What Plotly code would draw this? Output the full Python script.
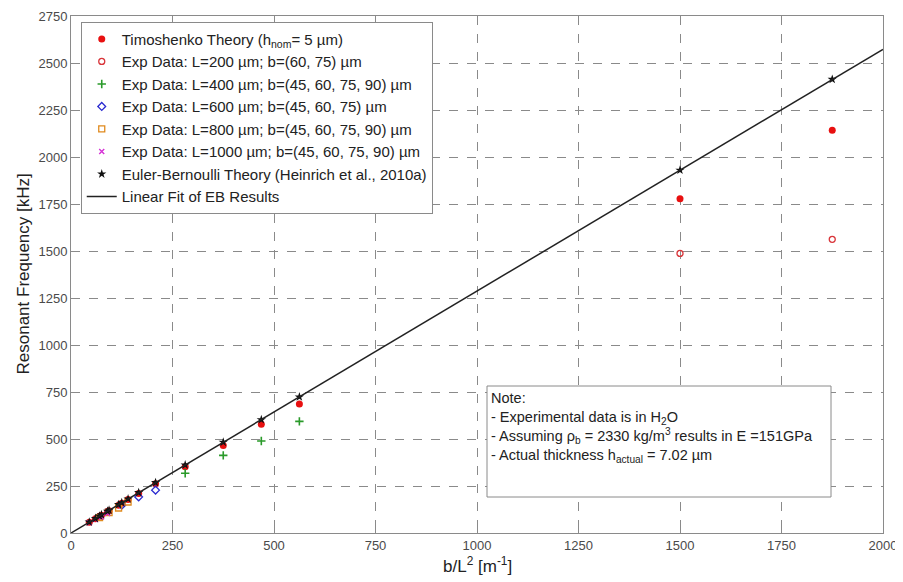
import plotly.graph_objects as go

# ---- data ----
eb_x = [45, 60, 70.3, 75, 90, 93.75, 117.2, 125, 140.6, 166.7, 208.3, 281.25, 375, 468.75, 562.5, 1500, 1875]
eb_y = [58, 77, 90, 97, 116, 121, 151, 161, 181, 215, 268, 362, 483, 603, 724, 1930, 2413]
timo_y = [57, 76, 89, 95, 114, 119, 148, 158, 178, 210, 262, 352, 465, 578, 686, 1778, 2142]

l200_x = [1500, 1875]
l200_y = [1487, 1562]
l400_x = [281.25, 375, 468.75, 562.5]
l400_y = [318, 413, 489, 594]
l600_x = [125, 166.7, 208.3]
l600_y = [148, 192, 228]
l800_x = [70.3, 93.75, 117.2, 140.6]
l800_y = [82, 108, 133, 165]
l1000_x = [45, 60, 75, 90]
l1000_y = [55, 72, 85, 104]

fit_x = [0, 2000]
fit_y = [0, 2573]

x_ticks = [0, 250, 500, 750, 1000, 1250, 1500, 1750, 2000]
y_ticks = [0, 250, 500, 750, 1000, 1250, 1500, 1750, 2000, 2250, 2500, 2750]

FONT = "Liberation Sans, Arial, sans-serif"

# page body has an 8px default margin; compensate so the plot lands where the reference has it
OFF = 8
PW, PH = 812, 517
ML, MT = 71 - OFF, 16 - OFF

fig = go.Figure()
fig.add_trace(go.Scatter(x=eb_x, y=timo_y, mode="markers", name="Timoshenko Theory (h<sub>nom</sub>= 5 µm)",
                         marker=dict(symbol="circle", size=7, color="#e81010")))
fig.add_trace(go.Scatter(x=l200_x, y=l200_y, mode="markers", name="Exp Data: L=200 µm; b=(60, 75) µm",
                         marker=dict(symbol="circle-open", size=6, color="#d9353a", line=dict(width=1.3))))
fig.add_trace(go.Scatter(x=l400_x, y=l400_y, mode="markers", name="Exp Data: L=400 µm; b=(45, 60, 75, 90) µm",
                         marker=dict(symbol="cross-thin-open", size=6, color="#2a9a2a", line=dict(width=1.6))))
fig.add_trace(go.Scatter(x=l600_x, y=l600_y, mode="markers", name="Exp Data: L=600 µm; b=(45, 60, 75) µm",
                         marker=dict(symbol="diamond-open", size=6, color="#2b2bd0", line=dict(width=1.3))))
fig.add_trace(go.Scatter(x=l800_x, y=l800_y, mode="markers", name="Exp Data: L=800 µm; b=(45, 60, 75, 90) µm",
                         marker=dict(symbol="square-open", size=6, color="#e08a1e", line=dict(width=1.3))))
fig.add_trace(go.Scatter(x=l1000_x, y=l1000_y, mode="markers", name="Exp Data: L=1000 µm; b=(45, 60, 75, 90) µm",
                         marker=dict(symbol="x-thin-open", size=5, color="#d633d6", line=dict(width=1.4))))
fig.add_trace(go.Scatter(x=eb_x, y=eb_y, mode="markers", name="Euler-Bernoulli Theory (Heinrich et al., 2010a)",
                         marker=dict(symbol="star", size=7, color="#111111")))
fig.add_trace(go.Scatter(x=fit_x, y=fit_y, mode="lines", name="Linear Fit of EB Results",
                         line=dict(color="#222222", width=1.5)))

grid = dict(showgrid=True, gridcolor="#8a8a8a", griddash="dash", gridwidth=1,
            showline=True, linecolor="#8a8a8a", linewidth=1, mirror=True,
            zeroline=False, ticks="inside", ticklen=4, tickcolor="#8a8a8a",
            automargin=False,
            tickfont=dict(family=FONT, size=13, color="#4a4a4a"))

fig.update_layout(
    width=ML + PW + 20, height=MT + PH + 49,
    margin=dict(l=ML, r=20, t=MT, b=49),
    paper_bgcolor="white", plot_bgcolor="white",
    font=dict(family=FONT, color="#222222"),
    xaxis=dict(range=[0, 2000], tickvals=x_ticks, **grid),
    yaxis=dict(range=[0, 2750], tickvals=y_ticks, **grid),
    legend=dict(x=0.012, y=0.989, xanchor="left", yanchor="top",
                bgcolor="white", bordercolor="#8a8a8a", borderwidth=1,
                font=dict(family=FONT, size=15, color="#222222"),
                tracegroupgap=0, itemwidth=30),
    showlegend=True,
)

# axis titles
fig.add_annotation(xref="paper", yref="paper", x=(23 - 71) / PW, y=0.5,
                   xanchor="center", yanchor="middle", textangle=-90, showarrow=False,
                   text="Resonant Frequency [kHz]", font=dict(family=FONT, size=17, color="#222222"))
fig.add_annotation(xref="paper", yref="paper", x=0.5, y=(533 - 565) / PH,
                   xanchor="center", yanchor="middle", showarrow=False,
                   text="b/L<sup>2</sup> [m<sup>-1</sup>]", font=dict(family=FONT, size=17, color="#222222"))

# Note box
fig.add_shape(type="rect", xref="paper", yref="paper",
              x0=(487 - 71) / PW, x1=(831 - 71) / PW,
              y0=(533 - 497) / PH, y1=(533 - 386) / PH,
              line=dict(color="#8a8a8a", width=1), fillcolor="white", layer="above")
fig.add_annotation(xref="paper", yref="paper",
                   x=(489 - 71) / PW, y=(533 - 388) / PH, xanchor="left", yanchor="top",
                   align="left", showarrow=False,
                   font=dict(family=FONT, size=14.5, color="#222222"),
                   text="Note:<br>- Experimental data is in H<sub>2</sub>O<br>"
                        "- Assuming ρ<sub>b</sub> = 2330 kg/m<sup>3</sup> results in E =151GPa<br>"
                        "- Actual thickness h<sub>actual</sub> = 7.02 µm")

fig.write_html("out.html")
